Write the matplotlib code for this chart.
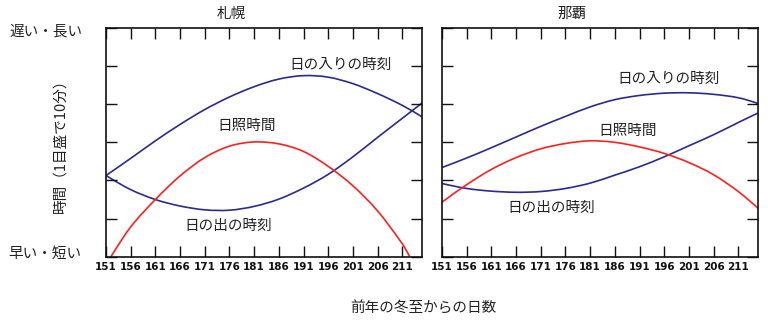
import numpy as np
import matplotlib.pyplot as plt
from matplotlib.path import Path
from matplotlib.patches import PathPatch

plt.rcParams['font.family'] = ['Noto Sans CJK JP', 'DejaVu Sans']

# days since previous winter solstice
days = [151, 156, 161, 166, 171, 176, 181, 186, 191, 196, 201, 206, 211, 215]

# Sapporo (units: 1 tick = 10 min)
sap_sunset = [2.13, 2.58, 3.04, 3.47, 3.86, 4.19, 4.46, 4.66, 4.75, 4.71, 4.54, 4.28, 3.97, 3.67]
sap_sunrise = [2.13, 1.76, 1.50, 1.33, 1.23, 1.22, 1.32, 1.51, 1.80, 2.16, 2.62, 3.13, 3.63, 4.03]
sap_days_len = [152.0, 156, 161, 166, 171, 176, 181, 186, 191, 196, 201, 206, 211, 212.5]
sap_daylen = [0.0, 0.78, 1.50, 2.12, 2.60, 2.90, 3.01, 2.96, 2.76, 2.37, 1.86, 1.20, 0.34, 0.0]

# Naha
naha_sunset = [2.34, 2.59, 2.86, 3.14, 3.42, 3.68, 3.93, 4.12, 4.23, 4.29, 4.30, 4.26, 4.17, 4.02]
naha_sunrise = [1.92, 1.79, 1.72, 1.69, 1.71, 1.79, 1.93, 2.14, 2.36, 2.62, 2.91, 3.20, 3.52, 3.77]
naha_daylen = [1.43, 1.89, 2.29, 2.60, 2.83, 2.97, 3.04, 3.00, 2.88, 2.71, 2.47, 2.15, 1.71, 1.27]

xticks = list(range(151, 215, 5))
blue = '#2a2a92'
red = '#ff2020'
txt = '#222222'


def smooth_line(ax, x, y, color):
    # cubic Hermite through the read points, drawn as Bezier segments
    x = np.asarray(x, float)
    y = np.asarray(y, float)
    n = len(x)
    m = np.zeros(n)
    for i in range(1, n - 1):
        m[i] = (y[i + 1] - y[i - 1]) / (x[i + 1] - x[i - 1])
    m[0] = (3 * (y[1] - y[0]) / (x[1] - x[0]) - m[1]) / 2
    m[-1] = (3 * (y[-1] - y[-2]) / (x[-1] - x[-2]) - m[-2]) / 2
    verts = [(x[0], y[0])]
    codes = [Path.MOVETO]
    for i in range(n - 1):
        h = x[i + 1] - x[i]
        verts += [(x[i] + h / 3, y[i] + m[i] * h / 3),
                  (x[i + 1] - h / 3, y[i + 1] - m[i + 1] * h / 3),
                  (x[i + 1], y[i + 1])]
        codes += [Path.CURVE4] * 3
    ax.add_patch(PathPatch(Path(verts, codes), fill=False, edgecolor=color, lw=1.2))


fig = plt.figure(figsize=(7.68, 3.23), dpi=100)
ax1 = fig.add_axes([106 / 768, 1 - 256.7 / 323, 316 / 768, 228.7 / 323])
ax2 = fig.add_axes([442 / 768, 1 - 256.7 / 323, 316 / 768, 228.7 / 323])

panels = [
    (ax1, days, sap_sunset, sap_sunrise, sap_days_len, sap_daylen,
     [(198.5, 5.03), (179.4, 3.43), (175.8, 0.81)]),
    (ax2, days, naha_sunset, naha_sunrise, days, naha_daylen,
     [(196.8, 4.66), (188.5, 3.31), (173.1, 1.28)]),
]

for ax, d, ss, sr, dl_d, dl, pos in panels:
    smooth_line(ax, d, ss, blue)
    smooth_line(ax, d, sr, blue)
    smooth_line(ax, dl_d, dl, red)
    ax.set_xlim(151, 215)
    ax.set_ylim(0, 6)
    ax.set_xticks(xticks)
    ax.set_xticklabels([str(t) for t in xticks], fontsize=7.5, fontweight='bold',
                       family=['Liberation Sans Narrow', 'DejaVu Sans'])
    ax.set_yticks(range(7))
    ax.set_yticklabels([])
    ax.tick_params(direction='in', length=8, width=1, top=True, right=True,
                   pad=4, colors='#111111')
    for s in ax.spines.values():
        s.set_linewidth(1.2)
        s.set_color('#111111')
    ax.text(pos[0][0], pos[0][1], '日の入りの時刻', ha='center', va='center',
            fontsize=10.5, color=txt)
    ax.text(pos[1][0], pos[1][1], '日照時間', ha='center', va='center',
            fontsize=10.5, color=txt)
    ax.text(pos[2][0], pos[2][1], '日の出の時刻', ha='center', va='center',
            fontsize=10.5, color=txt)

fig.text(231 / 768, 1 - 14 / 323, '札幌', ha='center', va='center', fontsize=10.5, color=txt)
fig.text(572 / 768, 1 - 14 / 323, '那覇', ha='center', va='center', fontsize=10.5, color=txt)
fig.text(46 / 768, 1 - 32 / 323, '遅い・長い', ha='center', va='center', fontsize=10.5, color=txt)
fig.text(45 / 768, 1 - 254 / 323, '早い・短い', ha='center', va='center', fontsize=10.5, color=txt)
fig.text(60 / 768, 1 - 142 / 323, '時間（1目盛で10分）', ha='center', va='center',
         rotation=90, fontsize=10.5, color=txt)
fig.text(423 / 768, 1 - 308 / 323, '前年の冬至からの日数', ha='center', va='center',
         fontsize=10.5, color=txt)

fig.savefig('out.png', dpi=100)
